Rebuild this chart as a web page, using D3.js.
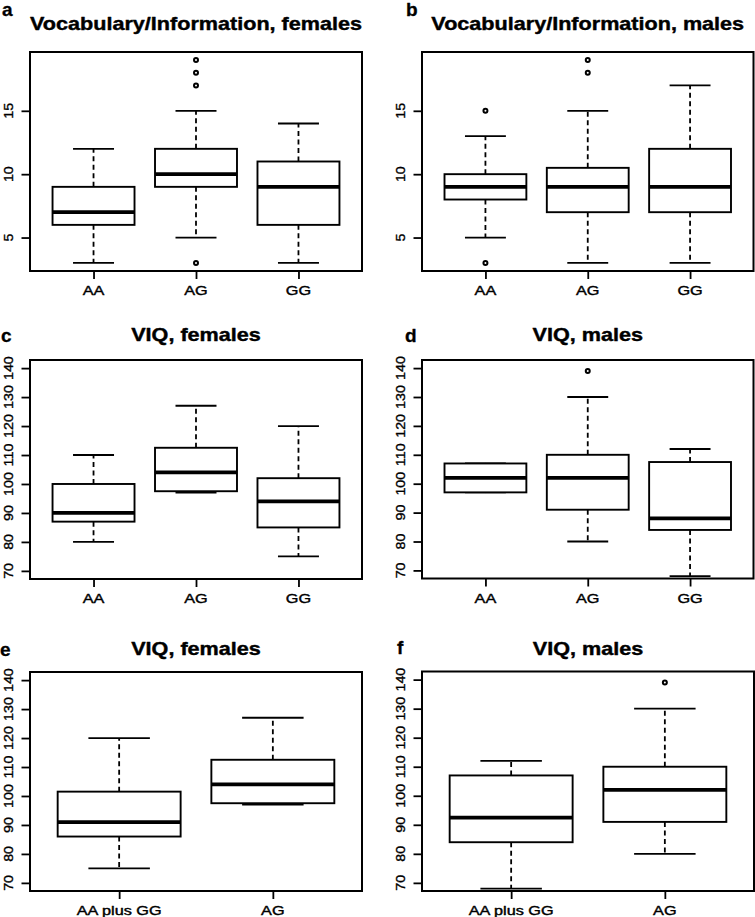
<!DOCTYPE html>
<html><head><meta charset="utf-8">
<script src="https://cdn.jsdelivr.net/npm/d3@7"></script>
<style>
html,body{margin:0;padding:0;background:#fff;}
svg{display:block;}
text{font-family:"Liberation Sans",Arial,Helvetica,sans-serif;fill:#000;}
</style></head>
<body>
<script>
// ---------- DATA ----------
const genotypes3 = ["AA", "AG", "GG"];
const genotypes2 = ["AA plus GG", "AG"];
// five-number summaries per group: [lower whisker, Q1, median, Q3, upper whisker]
const vocabFemalesStats = [[3, 6, 7, 9, 12], [5, 9, 10, 12, 15], [3, 6, 9, 11, 14]];
const vocabFemalesOutliers = [[], [3, 17, 18, 19], []];
const vocabMalesStats = [[5, 8, 9, 10, 13], [3, 7, 9, 10.5, 15], [3, 7, 9, 12, 17]];
const vocabMalesOutliers = [[3, 15], [18, 19], []];
const viqFemalesStats = [[80, 87, 90, 100, 110], [97, 97.5, 104, 112.5, 127], [75, 85, 94, 102, 120]];
const viqFemalesOutliers = [[], [], []];
const viqMalesStats = [[97, 97, 102, 107, 107], [80, 91, 102, 110, 130], [68, 84, 88, 107.5, 112]];
const viqMalesOutliers = [[], [139], []];
const viqFemalesPooledStats = [[75, 86, 91, 101.5, 120], [97, 97.5, 104, 112.5, 127]];
const viqFemalesPooledOutliers = [[], []];
const viqMalesPooledStats = [[68, 84, 92.5, 107, 112], [80, 91, 102, 110, 130]];
const viqMalesPooledOutliers = [[], [139]];
const vocabRange = [3, 19];
const viqRange = [70, 140];
const vocabTicks = [5, 10, 15];
const viqTicks = [70, 80, 90, 100, 110, 120, 130, 140];
const panelLetters = ["a", "b", "c", "d", "e", "f"];
const panelTitles = ["Vocabulary/Information, females", "Vocabulary/Information, males",
  "VIQ, females", "VIQ, males", "VIQ, females", "VIQ, males"];

// ---------- LAYOUT ----------
const W = 755, H = 917;
const svg = d3.select("body").append("svg").attr("width", W).attr("height", H);

const panels = [
  {cats: genotypes3, stats: vocabFemalesStats, outs: vocabFemalesOutliers, range: vocabRange, ticks: vocabTicks,
   box: [30, 52, 362, 271], letterPos: [2, 16], titleY: 30},
  {cats: genotypes3, stats: vocabMalesStats, outs: vocabMalesOutliers, range: vocabRange, ticks: vocabTicks,
   box: [422, 52, 753.5, 271], letterPos: [406, 16], titleY: 30},
  {cats: genotypes3, stats: viqFemalesStats, outs: viqFemalesOutliers, range: viqRange, ticks: viqTicks,
   box: [30, 360, 362, 579], letterPos: [1, 342], titleY: 340.5},
  {cats: genotypes3, stats: viqMalesStats, outs: viqMalesOutliers, range: viqRange, ticks: viqTicks,
   box: [422, 360, 753.5, 578.5], letterPos: [405, 342], titleY: 340.5},
  {cats: genotypes2, stats: viqFemalesPooledStats, outs: viqFemalesPooledOutliers, range: viqRange, ticks: viqTicks,
   box: [30, 672, 362, 891], letterPos: [0, 656], titleY: 655},
  {cats: genotypes2, stats: viqMalesPooledStats, outs: viqMalesPooledOutliers, range: viqRange, ticks: viqTicks,
   box: [422, 671.5, 754, 891], letterPos: [397, 654], titleY: 655}
];

function stretchedText(g, x, y, str, opts) {
  const t = g.append("text")
    .attr("transform", `translate(${x},${y})` + (opts.rotate ? ` rotate(${opts.rotate})` : "") + ` scale(${opts.sx || 1},1)`)
    .attr("text-anchor", opts.anchor || "middle")
    .style("font-size", opts.size + "px")
    .style("font-weight", opts.weight || "normal")
    .text(str);
  if (opts.heavy) t.attr("stroke", "#000").attr("stroke-width", opts.heavy).attr("stroke-linejoin", "round");
  return t;
}

panels.forEach((p, i) => {
  const [x0, y0, x1, y1] = p.box;
  const n = p.cats.length;
  const g = svg.append("g");
  const ext = 0.04 * n;
  const x = d3.scaleLinear().domain([0.5 - ext, n + 0.5 + ext]).range([x0, x1]);
  const yr = p.range[1] - p.range[0];
  const y = d3.scaleLinear().domain([p.range[0] - 0.04 * yr, p.range[1] + 0.04 * yr]).range([y1, y0]);

  // y axis
  const yAxis = g.append("g").attr("transform", `translate(${x0},0)`)
    .call(d3.axisLeft(y).tickValues(p.ticks).tickSize(8.5).tickFormat(""));
  yAxis.select(".domain").remove();
  yAxis.selectAll("line").attr("stroke", "#000").attr("stroke-width", 1.8);
  p.ticks.forEach(v => {
    stretchedText(g, x0 - 17, y(v), String(v), {rotate: -90, sx: 1.1, size: 13, heavy: 0.35});
  });

  // x axis
  const xAxis = g.append("g").attr("transform", `translate(0,${y1})`)
    .call(d3.axisBottom(x).tickValues(d3.range(1, n + 1)).tickSize(8).tickFormat(""));
  xAxis.select(".domain").remove();
  xAxis.selectAll("line").attr("stroke", "#000").attr("stroke-width", 1.8);
  p.cats.forEach((c, j) => {
    stretchedText(g, x(j + 1), y1 + 24, c, {sx: 1.3, size: 12.5, heavy: 0.4});
  });

  // boxes
  const unit = x(1) - x(0);
  p.stats.forEach((s, j) => {
    const cx = x(j + 1);
    const bw = 0.8 * unit, cw = 0.4 * unit;
    const [lo, q1, med, q3, hi] = s;
    // whiskers
    g.append("line").attr("x1", cx).attr("x2", cx).attr("y1", y(q1)).attr("y2", y(lo))
      .attr("stroke", "#000").attr("stroke-width", 1.8).attr("stroke-dasharray", "5,3.5");
    g.append("line").attr("x1", cx).attr("x2", cx).attr("y1", y(q3)).attr("y2", y(hi))
      .attr("stroke", "#000").attr("stroke-width", 1.8).attr("stroke-dasharray", "5,3.5");
    // caps
    [lo, hi].forEach(v => g.append("line").attr("x1", cx - cw / 2).attr("x2", cx + cw / 2)
      .attr("y1", y(v)).attr("y2", y(v)).attr("stroke", "#000").attr("stroke-width", 1.8));
    // box
    g.append("rect").attr("x", cx - bw / 2).attr("width", bw)
      .attr("y", y(q3)).attr("height", y(q1) - y(q3))
      .attr("fill", "#fff").attr("stroke", "#000").attr("stroke-width", 1.9);
    // median
    g.append("line").attr("x1", cx - bw / 2).attr("x2", cx + bw / 2)
      .attr("y1", y(med)).attr("y2", y(med)).attr("stroke", "#000").attr("stroke-width", 3.8);
    // outliers
    p.outs[j].forEach(v => g.append("circle").attr("cx", cx).attr("cy", y(v)).attr("r", 2)
      .attr("fill", "none").attr("stroke", "#000").attr("stroke-width", 2));
  });

  // frame
  g.append("rect").attr("x", x0).attr("y", y0).attr("width", x1 - x0).attr("height", y1 - y0)
    .attr("fill", "none").attr("stroke", "#000").attr("stroke-width", 2);

  // title
  stretchedText(g, (x0 + x1) / 2, p.titleY, panelTitles[i], {sx: 1.2, size: 18, weight: "bold", heavy: 0.4});
  // panel letter
  stretchedText(g, p.letterPos[0], p.letterPos[1], panelLetters[i], {anchor: "start", size: 19, weight: "bold", heavy: 0.3});
});
</script>
</body></html>
